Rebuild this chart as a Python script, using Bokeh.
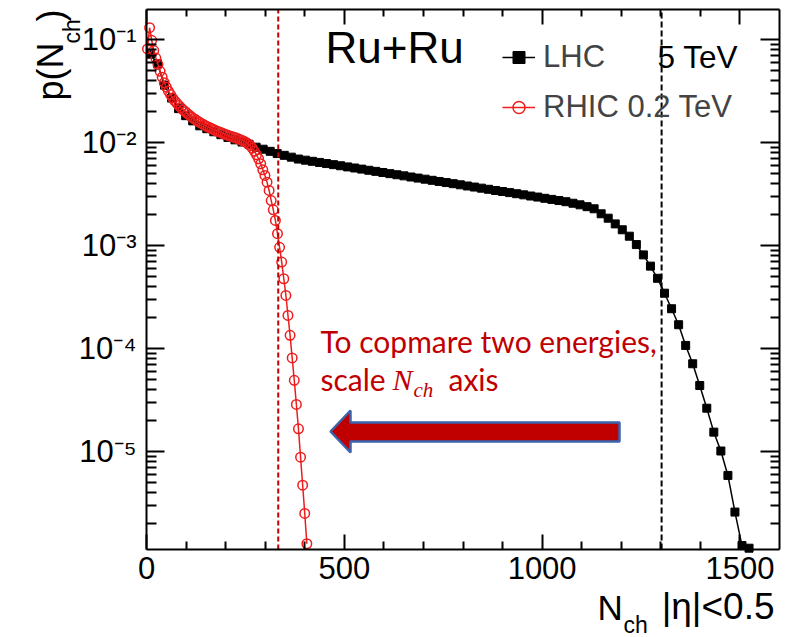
import math
from bokeh.plotting import figure
from bokeh.models import (Range1d, LogAxis, LinearAxis, FixedTicker, Label,
                          Legend, LegendItem, PolyAnnotation, CustomJSTickFormatter)
from bokeh.embed import file_html
from bokeh.resources import INLINE

# ---------------- data ----------------
lhc_nch = [10, 27.8, 45.6, 63.4, 81.2, 99, 116.8, 134.6, 152.4, 170.2, 188, 205.8, 223.6,
           241.4, 259.2, 277, 294.8, 312.6, 330.4, 348.2, 366, 383.8, 401.6, 419.4, 437.2,
           455, 472.8, 490.6, 508.4, 526.2, 544, 561.8, 579.6, 597.4, 615.2, 633, 650.8,
           668.6, 686.4, 704.2, 722, 739.8, 757.6, 775.4, 793.2, 811, 828.8, 846.6, 864.4,
           882.2, 900, 917.8, 935.6, 953.4, 971.2, 989, 1006.8, 1024.6, 1042.4, 1060.2,
           1078, 1095.8, 1113.6, 1131.4, 1149.2, 1167, 1184.8, 1202.6, 1220.4, 1238.2,
           1256, 1273.8, 1291.6, 1309.4, 1327.2, 1345, 1362.8, 1380.6, 1398.4, 1416.2,
           1434, 1451.8, 1469.6, 1487.4, 1505.2, 1523]
lhc_p = [0.072, 0.058, 0.036, 0.027, 0.0213, 0.0182, 0.0162, 0.0145, 0.0136, 0.0127,
         0.0119, 0.0112, 0.0106, 0.0101, 0.0096, 0.0090, 0.0086, 0.0082, 0.0078, 0.0075,
         0.0072, 0.0069, 0.00673, 0.00656, 0.0064, 0.00624, 0.00609, 0.00594, 0.00579,
         0.00565, 0.00551, 0.00537, 0.00524, 0.00511, 0.00498, 0.00486, 0.00474, 0.00462,
         0.00451, 0.0044, 0.00429, 0.00418, 0.00408, 0.00398, 0.00388, 0.00378, 0.00369,
         0.0036, 0.00351, 0.00342, 0.00334, 0.00326, 0.00318, 0.0031, 0.00302, 0.00295,
         0.00287, 0.0028, 0.00273, 0.00266, 0.00257, 0.00248, 0.00238, 0.00227, 0.00203,
         0.00184, 0.00162, 0.00142, 0.00123, 0.00102, 0.00081, 0.00063, 0.00048, 0.000344,
         0.000243, 0.00017, 0.000107, 7.1e-5, 4.37e-5, 2.63e-5, 1.54e-5, 1.01e-5, 5.85e-6,
         2.58e-6, 1.22e-6, 1.15e-6]

rhic_nch = [2.5, 7.8, 13.1, 18.4, 23.7, 29.0, 34.3, 39.6, 44.9, 50.2, 55.5, 60.8, 66.1,
            71.4, 76.7, 82.0, 87.3, 92.6, 97.9, 103.2, 108.5, 113.8, 119.1, 124.4, 129.7,
            135.0, 140.3, 145.6, 150.9, 156.2, 161.5, 166.8, 172.1, 177.4, 182.7, 188.0,
            193.3, 198.6, 203.9, 209.2, 214.5, 219.8, 225.1, 230.4, 235.7, 241.0, 246.3,
            251.6, 256.9, 262.2, 267.5, 272.8, 278.1, 283.4, 288.7, 294.0, 299.3, 304.6,
            309.9, 315.2, 320.5, 325.8, 331.1, 336.4, 341.7, 347.0, 352.3, 357.6, 362.9,
            368.2, 373.5, 378.8, 384.1, 389.4, 394.7, 400.0, 405.3]
rhic_p = [0.081, 0.13, 0.098, 0.078, 0.066, 0.057, 0.049, 0.043, 0.038, 0.0344, 0.0315,
          0.0292, 0.027, 0.0254, 0.024, 0.0228, 0.0217, 0.0207, 0.0199, 0.0191, 0.0184,
          0.0177, 0.0171, 0.0166, 0.0161, 0.0156, 0.0152, 0.0148, 0.0144, 0.0141, 0.0138,
          0.0135, 0.0132, 0.0129, 0.0127, 0.0125, 0.0122, 0.012, 0.0118, 0.0116, 0.0114,
          0.0113, 0.0111, 0.0109, 0.0107, 0.0105, 0.0103, 0.01, 0.0097, 0.0093, 0.0088,
          0.0082, 0.0076, 0.00695, 0.0062, 0.00543, 0.00479, 0.00412, 0.00342, 0.00273,
          0.00222, 0.00175, 0.0013, 0.00096, 0.00069, 0.000475, 0.000327, 0.000209,
          0.000134, 8.1e-5, 4.9e-5, 2.86e-5, 1.66e-5, 8.8e-6, 4.7e-6, 2.5e-6, 1.27e-6]

series_labels = ["LHC", "RHIC 0.2 TeV"]
lhc_energy_label = "5 TeV"
system_label = "Ru+Ru"
cut_rhic = 333
cut_lhc = 1302

x_major = [0, 500, 1000, 1500]
x_minor = [100, 200, 300, 400, 600, 700, 800, 900, 1100, 1200, 1300, 1400]
y_major = [1e-5, 1e-4, 1e-3, 1e-2, 1e-1]
y_major_labels = ["10\u207b\u2075", "10\u207b\u2074", "10\u207b\u00b3", "10\u207b\u00b2", "10\u207b\u00b9"]

# ---------------- layout ----------------
W, H = 787, 637
X_RANGE = (0, 1600)               # the plotted N_ch range
Y_RANGE = (1.117e-6, 0.1954)      # the plotted p range
FL, FR, FT, FB = 146, 779, 9, 549  # where that range sits on the canvas (pixels)

y_minor = [m * 10.0 ** e for e in range(-6, 0) for m in range(2, 10)
           if Y_RANGE[0] < m * 10.0 ** e < Y_RANGE[1]]


def dx(px):
    return X_RANGE[0] + (px - FL) / (FR - FL) * (X_RANGE[1] - X_RANGE[0])


def dy(py):
    lt, lb = math.log10(Y_RANGE[1]), math.log10(Y_RANGE[0])
    return 10 ** (lt - (py - FT) / (FB - FT) * (lt - lb))


# The frame covers the whole canvas so that the titles outside the axes are not clipped;
# the axes are pinned (fixed_location + bounds) to the edges of the plotted range.
p = figure(width=W, height=H, x_range=Range1d(dx(0), dx(W)), y_range=Range1d(dy(H), dy(0)),
           y_axis_type="log", output_backend="svg", toolbar_location=None,
           min_border=0, min_border_left=0, min_border_right=0, min_border_top=0,
           min_border_bottom=0)
p.outline_line_color = None
p.xgrid.visible = False
p.ygrid.visible = False
p.background_fill_color = "white"
p.border_fill_color = "white"

FONT = "Liberation Sans"

xa = p.xaxis[0]
xa.fixed_location = Y_RANGE[0]
xa.bounds = X_RANGE
xa.ticker = FixedTicker(ticks=x_major, minor_ticks=x_minor)
xa.major_tick_in = 15
xa.major_tick_out = 0
xa.minor_tick_in = 8
xa.minor_tick_out = 0
xa.axis_line_width = 2
xa.major_tick_line_width = 2
xa.minor_tick_line_width = 2
xa.major_label_text_font = FONT
xa.major_label_text_font_size = "31px"
xa.major_label_text_color = "black"
xa.major_label_standoff = 7

ya = p.yaxis[0]
ya.fixed_location = X_RANGE[0]
ya.bounds = Y_RANGE
ya.ticker = FixedTicker(ticks=y_major, minor_ticks=y_minor)
ya.formatter = CustomJSTickFormatter(args=dict(vals=y_major, labs=y_major_labels), code="""
const e = Math.log10(tick);
for (let i = 0; i < vals.length; i++) {
  if (Math.abs(Math.log10(vals[i]) - e) < 1e-6) return labs[i];
}
return "";
""")
ya.major_tick_in = 18
ya.major_tick_out = 0
ya.minor_tick_in = 10
ya.minor_tick_out = 0
ya.axis_line_width = 2
ya.major_tick_line_width = 2
ya.minor_tick_line_width = 2
ya.major_label_text_font = FONT
ya.major_label_text_font_size = "31px"
ya.major_label_text_color = "black"
ya.major_label_standoff = 10

blank = CustomJSTickFormatter(code="return '';")
top_axis = LinearAxis(ticker=FixedTicker(ticks=x_major, minor_ticks=x_minor), formatter=blank,
                      fixed_location=Y_RANGE[1], bounds=X_RANGE,
                      major_label_text_font_size="1px", major_label_standoff=0,
                      major_tick_in=15, major_tick_out=0, minor_tick_in=7, minor_tick_out=0,
                      axis_line_width=2, major_tick_line_width=2, minor_tick_line_width=2)
p.add_layout(top_axis, "above")
right_axis = LogAxis(ticker=FixedTicker(ticks=y_major, minor_ticks=y_minor), formatter=blank,
                     fixed_location=X_RANGE[1], bounds=Y_RANGE,
                     major_label_text_font_size="1px", major_label_standoff=0,
                     major_tick_in=19, major_tick_out=0, minor_tick_in=9, minor_tick_out=0,
                     axis_line_width=2, major_tick_line_width=2, minor_tick_line_width=2)
p.add_layout(right_axis, "right")

# ---------------- data glyphs ----------------
RED = "#ee1c1c"
DRED = "#c00000"
lhc_line = p.line(lhc_nch, lhc_p, line_color="black", line_width=1.5)
lhc_pts = p.scatter(lhc_nch, lhc_p, marker="square", size=8, fill_color="black", line_color="black")
rhic_line = p.line(rhic_nch, rhic_p, line_color=RED, line_width=1.5)
rhic_pts = p.scatter(rhic_nch, rhic_p, marker="circle", size=9.5, fill_color=None,
                     line_color=RED, line_width=1.5)

# dashed cut lines spanning the plotted y range
p.segment(x0=[cut_rhic], y0=[Y_RANGE[0]], x1=[cut_rhic], y1=[Y_RANGE[1]],
          line_color=DRED, line_dash="5 3", line_width=2)
p.segment(x0=[cut_lhc], y0=[Y_RANGE[0]], x1=[cut_lhc], y1=[Y_RANGE[1]],
          line_color="black", line_dash="6 3", line_width=2)

legend = Legend(items=[LegendItem(label=series_labels[0], renderers=[lhc_line, lhc_pts]),
                       LegendItem(label=series_labels[1], renderers=[rhic_line, rhic_pts])],
                location=(502, 512), label_text_font=FONT, label_text_font_size="31px",
                glyph_width=33, glyph_height=30, label_height=30, label_standoff=8,
                spacing=14, padding=0, margin=0, border_line_color=None,
                background_fill_alpha=0)
p.add_layout(legend)

# ---------------- texts ----------------
def lab(px, py, text, size, font=FONT, color="black", style="normal", align="left", angle=0):
    # px, py: where the text baseline starts on the canvas; shift compensates the
    # offset between the requested and the drawn baseline
    shift = 0.37 * size
    if angle == 0:
        py = py - shift
    else:
        px = px - shift
    p.add_layout(Label(x=dx(px), y=dy(py), text=text, text_font=font,
                       text_font_size=f"{size}px", text_color=color, text_font_style=style,
                       text_align=align, text_baseline="alphabetic", angle=angle))

lab(325, 63, system_label, 44)
lab(657, 68, lhc_energy_label, 31.5)

# axis titles
lab(63, 100, "p(N", 36, angle=math.pi / 2)
lab(80, 43, "ch", 23, angle=math.pi / 2)
lab(63, 21, ")", 36, angle=math.pi / 2)
lab(597, 620, "N", 35)
lab(623, 633, "ch", 23)
lab(774, 620, "|\u03b7|<0.5", 37, align="right")

# red annotation
lab(320, 352, "To copmare two energies,", 30, font="Lato", color=DRED)
lab(320, 390, "scale", 30, font="Lato", color=DRED)
lab(392, 390, "N", 30, font="Liberation Serif", color=DRED, style="italic")
lab(413, 397, "ch", 21, font="Liberation Serif", color=DRED, style="italic")
lab(448, 390, "axis", 30, font="Lato", color=DRED)

arrow_px = [330, 350, 350, 619, 619, 350, 350]
arrow_py = [431, 410, 422, 422, 441, 441, 452]
p.add_layout(PolyAnnotation(xs=[dx(v) for v in arrow_px], ys=[dy(v) for v in arrow_py],
                            fill_color=DRED, fill_alpha=1.0, line_color="#3b64ad",
                            line_width=2.5, line_alpha=1.0))

open("out.html", "w").write(file_html(p, INLINE))
